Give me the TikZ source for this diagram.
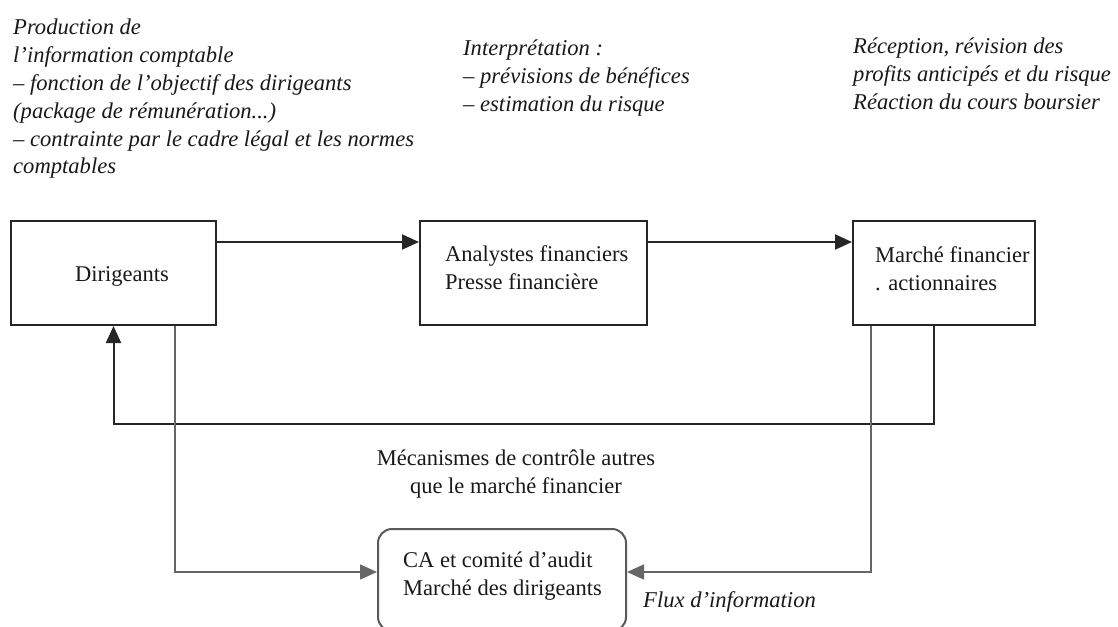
\documentclass[tikz,border=0pt]{standalone}
\usepackage{fontspec}
\setmainfont{Liberation Serif}
\usetikzlibrary{arrows.meta}
\begin{document}
\begin{tikzpicture}[x=1pt,y=-1pt,
  box/.style={draw=black!85, line width=2pt, inner sep=0pt},
  lbl/.style={font=\fontsize{22.5}{28}\selectfont, align=left, inner sep=0pt, text=black!90},
  note/.style={font=\fontsize{22.6}{27.8}\selectfont\itshape, align=left, inner sep=0pt, anchor=north west, text=black!90},
  flow/.style={line width=2pt, draw=black!85, -{Triangle[length=17pt,width=15pt]}},
  ctrl/.style={line width=1.6pt, draw=black!60, -{Triangle[length=17pt,width=15pt]}},
]
\useasboundingbox (0,0) rectangle (1118,626);
\fill[white] (0,0) rectangle (1118,626);

% boxes
\node[box, minimum width=205pt, minimum height=104pt] (dir) at (113.5,273) {};
\node[box, minimum width=227pt, minimum height=104pt] (ana) at (533.5,273) {};
\node[box, minimum width=182pt, minimum height=104pt] (mar) at (944,273) {};
\node[box, draw=black!65, rounded corners=14pt, minimum width=248pt, minimum height=102pt] (ca) at (502,580) {};

% box texts
\node[lbl] (tdir) at (122,276) {Dirigeants};
\node[lbl, anchor=west] (tana) at (445,268) {Analystes financiers\\Presse financière};
\node[lbl, anchor=west] (tmar) at (875,269) {Marché financier\\. actionnaires};
\node[lbl, align=center] (tmec) at (516,474) {Mécanismes de contrôle autres\\que le marché financier};
\node[lbl, anchor=west] (tca) at (403,576) {CA et comité d'audit\\Marché des dirigeants};
\node[note, anchor=west] (tflux) at (643,602) {Flux d'information};

% notes
\node[note] (tprod) at (13,19) {Production de\\l'information comptable\\– fonction de l'objectif des dirigeants\\(package de rémunération...)\\– contrainte par le cadre légal et les normes\\comptables};
\node[note] (tint) at (463,40) {Interprétation :\\– prévisions de bénéfices\\– estimation du risque};
\node[note] (trec) at (853,38) {Réception, révision des\\profits anticipés et du risque\\Réaction du cours boursier};

% connectors
\coordinate (fb) at (0,424);
\draw[flow] ([yshift=31pt]dir.east) -- ([yshift=31pt]ana.west);
\draw[flow] ([yshift=31pt]ana.east) -- ([yshift=31pt]mar.west);
\draw[flow] ([xshift=-10pt]mar.south) -- ([xshift=-10pt]mar.south |- fb) -| (dir.south);
\draw[ctrl] ([xshift=61.5pt]dir.south) |- ([yshift=8pt]ca.west);
\draw[ctrl] ([xshift=-73pt]mar.south) |- ([yshift=8pt]ca.east);
\end{tikzpicture}
\end{document}
